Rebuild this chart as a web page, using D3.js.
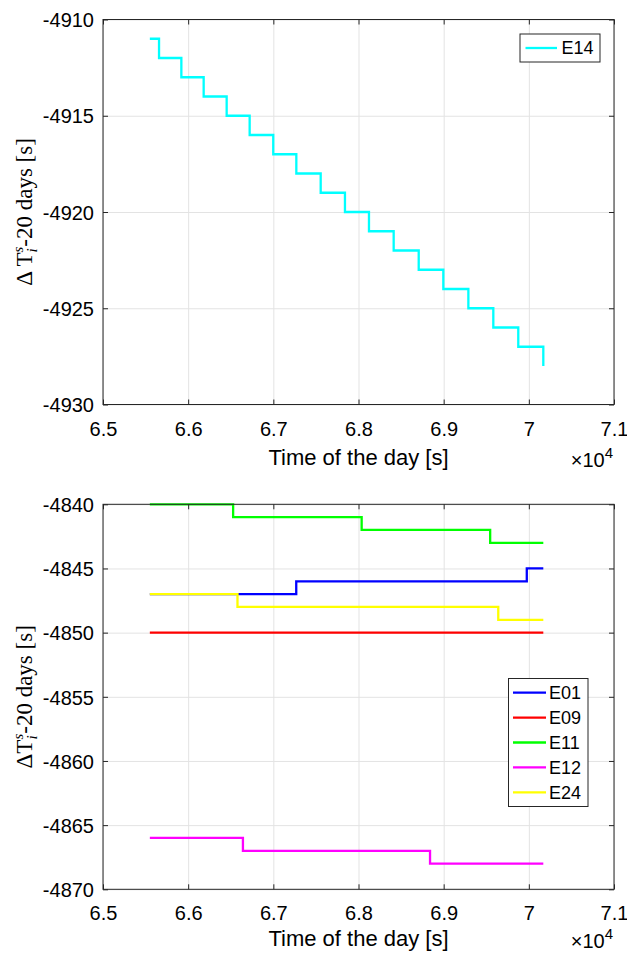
<!DOCTYPE html>
<html>
<head>
<meta charset="utf-8">
<script src="https://cdn.jsdelivr.net/npm/d3@7/dist/d3.min.js"></script>
<style>
  html, body { margin: 0; padding: 0; background: #fff; }
  svg { display: block; }
</style>
</head>
<body>
<svg id="chart" width="627" height="953"></svg>
<script>
// ---------------- DATA ----------------
const xTickValues = [65000, 66000, 67000, 68000, 69000, 70000, 71000];
const xTickLabels = ["6.5", "6.6", "6.7", "6.8", "6.9", "7", "7.1"];

const topYTicks = [-4930, -4925, -4920, -4915, -4910];
const bottomYTicks = [-4870, -4865, -4860, -4855, -4850, -4845, -4840];

// Top panel: E14 (step-after series: change times and values)
const e14Times  = [65550, 65658, 65920, 66182, 66452, 66722, 66999, 67270, 67556, 67841, 68123, 68413, 68707, 68996, 69290, 69583, 69876, 70170];
const e14Values = [-4911, -4912, -4913, -4914, -4915, -4916, -4917, -4918, -4919, -4920, -4921, -4922, -4923, -4924, -4925, -4926, -4927, -4928];

// Bottom panel
const bottomNames  = ["E01", "E09", "E11", "E12", "E24"];
const bottomColors = ["#0000ff", "#ff0000", "#00ff00", "#ff00ff", "#ffff00"];
const e01Times  = [65550, 67269, 69976, 70170];
const e01Values = [-4847, -4846, -4845, -4845];
const e09Times  = [65550, 70170];
const e09Values = [-4850, -4850];
const e11Times  = [65550, 66528, 68037, 69546, 70170];
const e11Values = [-4840, -4841, -4842, -4843, -4843];
const e12Times  = [65550, 66643, 68840, 70170];
const e12Values = [-4866, -4867, -4868, -4868];
const e24Times  = [65550, 66579, 69641, 70170];
const e24Values = [-4847, -4848, -4849, -4849];

// ---------------- DRAWING ----------------
const svg = d3.select("#chart");
const SANS = "'Liberation Sans', Arial, Helvetica, sans-serif";
const SERIF = "'Liberation Serif', 'DejaVu Serif', 'Times New Roman', serif";
const AXIS_COLOR = "#262626";
const GRID_COLOR = "#e3e3e3";

function zip(ts, vs) { return ts.map((t, i) => ({ t: t, v: vs[i] })); }

function panel(opts) {
  const left = 103, right = 614;
  const top = opts.top, bottom = opts.bottom;
  const w = right - left, h = bottom - top;
  const x = d3.scaleLinear().domain([65000, 71000]).range([0, w]);
  const y = d3.scaleLinear().domain(opts.yDomain).range([h, 0]);
  const g = svg.append("g").attr("transform", `translate(${left},${top})`);

  // grid
  g.append("g").attr("class", "grid")
    .call(d3.axisBottom(x).tickValues(xTickValues).tickSize(h).tickFormat(""))
    .call(s => s.select(".domain").remove())
    .call(s => s.selectAll("line").attr("stroke", GRID_COLOR).attr("stroke-width", 1));
  g.append("g").attr("class", "grid")
    .call(d3.axisLeft(y).tickValues(opts.yTicks).tickSize(-w).tickFormat(""))
    .call(s => s.select(".domain").remove())
    .call(s => s.selectAll("line").attr("stroke", GRID_COLOR).attr("stroke-width", 1));

  // series
  const line = d3.line().x(d => x(d.t)).y(d => y(d.v)).curve(d3.curveStepAfter);
  opts.series.forEach(s => {
    g.append("path")
      .datum(zip(s.times, s.values))
      .attr("d", line)
      .attr("fill", "none")
      .attr("stroke", s.color)
      .attr("stroke-width", 2.3)
      .attr("stroke-linejoin", "miter")
      .attr("stroke-linecap", "butt");
  });

  // axes with inward ticks
  const xAxisB = d3.axisBottom(x).tickValues(xTickValues)
    .tickFormat((d, i) => xTickLabels[i]).tickSizeInner(-5).tickSizeOuter(0).tickPadding(17);
  const gb = g.append("g").attr("transform", `translate(0,${h})`).call(xAxisB);
  const yAxisL = d3.axisLeft(y).tickValues(opts.yTicks)
    .tickFormat(d => String(d)).tickSizeInner(-5).tickSizeOuter(0).tickPadding(9);
  const gl = g.append("g").call(yAxisL);
  const gt = g.append("g").call(d3.axisTop(x).tickValues(xTickValues).tickFormat("").tickSizeInner(-5).tickSizeOuter(0));
  const gr = g.append("g").attr("transform", `translate(${w},0)`)
    .call(d3.axisRight(y).tickValues(opts.yTicks).tickFormat("").tickSizeInner(-5).tickSizeOuter(0));
  [gb, gl, gt, gr].forEach(a => {
    a.selectAll(".domain").remove();
    a.selectAll("line").attr("stroke", AXIS_COLOR);
    a.selectAll("text").attr("font-family", SANS).attr("font-size", 20).attr("fill", "#000");
  });
  gl.selectAll("text").attr("dy", "0.36em");

  // box
  g.append("rect").attr("x", 0).attr("y", 0).attr("width", w).attr("height", h)
    .attr("fill", "none").attr("stroke", AXIS_COLOR).attr("stroke-width", 1);

  // x label
  g.append("text").attr("x", w / 2).attr("y", h + opts.xLabelOffset)
    .attr("text-anchor", "middle").attr("font-family", SANS).attr("font-size", 22)
    .text("Time of the day [s]");

  // exponent
  const ex = g.append("text").attr("x", w - 1).attr("y", h + opts.expOffset)
    .attr("text-anchor", "end").attr("font-family", SANS).attr("font-size", 20);
  ex.append("tspan").text("\u00d710");
  ex.append("tspan").attr("dy", -9).attr("font-size", 15).text("4");

  // y label
  const yl = svg.append("text")
    .attr("transform", `translate(32,${top + h / 2}) rotate(-90)`)
    .attr("text-anchor", "middle").attr("font-family", SERIF).attr("font-size", 23).attr("fill", "#000");
  yl.append("tspan").text(opts.yLabelHead);
  yl.append("tspan").attr("dy", -9).attr("font-size", 15).attr("font-style", "italic").text("s");
  yl.append("tspan").attr("dx", -5.8).attr("dy", 14).attr("font-size", 15).attr("font-style", "italic").text("i");
  yl.append("tspan").attr("dx", 1.6).attr("dy", -5).text("-20 days [s]");

  // legend
  const L = opts.legend;
  const lg = svg.append("g");
  lg.append("rect").attr("x", L.x0).attr("y", L.y0).attr("width", L.x1 - L.x0).attr("height", L.y1 - L.y0)
    .attr("fill", "#fff").attr("stroke", AXIS_COLOR).attr("stroke-width", 1);
  L.items.forEach((it, i) => {
    const cy = L.firstY + i * L.step;
    lg.append("line").attr("x1", L.lx0).attr("x2", L.lx1).attr("y1", cy).attr("y2", cy)
      .attr("stroke", it.color).attr("stroke-width", 2.3);
    lg.append("text").attr("x", L.tx).attr("y", cy).attr("dy", "0.36em")
      .attr("font-family", SANS).attr("font-size", 18).text(it.name);
  });
}

panel({
  top: 19.5, bottom: 404.5,
  yDomain: [-4930, -4910], yTicks: topYTicks,
  yLabelHead: "\u0394 T",
  xLabelOffset: 60, expOffset: 62,
  series: [{ times: e14Times, values: e14Values, color: "#00ffff" }],
  legend: { x0: 520, x1: 600, y0: 34, y1: 62, lx0: 525.5, lx1: 557, tx: 561.5, firstY: 48, step: 25,
            items: [{ name: "E14", color: "#00ffff" }] }
});

const bottomTimes = [e01Times, e09Times, e11Times, e12Times, e24Times];
const bottomValues = [e01Values, e09Values, e11Values, e12Values, e24Values];
panel({
  top: 504.3, bottom: 889.3,
  yDomain: [-4870, -4840], yTicks: bottomYTicks,
  yLabelHead: "\u0394T",
  xLabelOffset: 57, expOffset: 59,
  series: bottomNames.map((n, i) => ({ times: bottomTimes[i], values: bottomValues[i], color: bottomColors[i] })),
  legend: { x0: 508.5, x1: 588, y0: 678.5, y1: 806.5, lx0: 513, lx1: 546, tx: 549, firstY: 692.7, step: 24.9,
            items: bottomNames.map((n, i) => ({ name: n, color: bottomColors[i] })) }
});
</script>
</body>
</html>
